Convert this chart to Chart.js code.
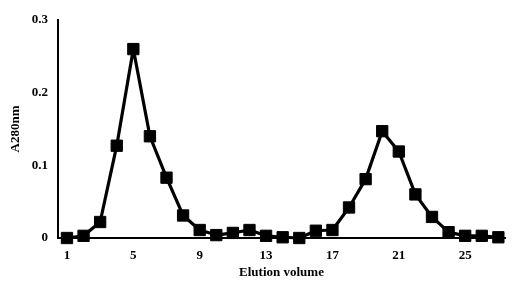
<!DOCTYPE html>
<html>
<head>
<title>Elution profile</title>
<script src="https://cdn.jsdelivr.net/npm/chart.js@4.4.1/dist/chart.umd.min.js"></script>
<style>
    body { margin: 0; background: #fff; }
    #wrap { width: 514px; height: 298px; }
</style>
</head>
<body>
<div id="wrap"><canvas id="elutionChart" width="514" height="298"></canvas></div>
<script>
// fractions (elution volume) and A280 readings
const volumes = [1,2,3,4,5,6,7,8,9,10,11,12,13,14,15,16,17,18,19,20,21,22,23,24,25,26,27];
const a280 = [0, 0.003, 0.022, 0.127, 0.26, 0.14, 0.083, 0.031, 0.011, 0.004, 0.007, 0.011, 0.003, 0.001, 0,
              0.01, 0.011, 0.042, 0.081, 0.147, 0.119, 0.06, 0.029, 0.008, 0.003, 0.003, 0.001];
const xTickLabels = [1, 5, 9, 13, 17, 21, 25];
const yTickLabels = [0, 0.1, 0.2, 0.3];

const serifBold = { family: '"Liberation Serif", "Times New Roman", serif', weight: 'bold', size: 13 };

new Chart(document.getElementById('elutionChart').getContext('2d'), {
    type: 'line',
    data: {
        datasets: [{
            label: 'A280nm',
            data: volumes.map((v, i) => ({ x: v, y: a280[i] })),
            borderColor: '#000',
            backgroundColor: '#000',
            borderWidth: 3.2,
            borderJoinStyle: 'round',
            pointStyle: 'rect',
            pointRadius: 8,
            pointHoverRadius: 8,
            pointBorderWidth: 1,
            tension: 0,
            fill: false,
            clip: false
        }]
    },
    options: {
        responsive: false,
        animation: false,
        layout: { padding: { top: 20, right: 7, bottom: 0, left: 0 } },
        plugins: { legend: { display: false }, tooltip: { enabled: false } },
        scales: {
            x: {
                type: 'linear',
                min: 0.46,
                max: 27.4,
                grid: { display: false, drawTicks: false },
                border: { display: true, color: '#000', width: 2 },
                afterBuildTicks: (scale) => { scale.ticks = xTickLabels.map(v => ({ value: v })); },
                ticks: { color: '#000', font: serifBold, padding: 10, maxRotation: 0 },
                title: { display: true, text: 'Elution volume', color: '#000', font: serifBold, padding: { top: 4, bottom: 18 } },
                afterFit: (scale) => { scale.height = 60; }
            },
            y: {
                min: 0,
                max: 0.3,
                grid: { display: false, drawTicks: false },
                border: { display: true, color: '#000', width: 2 },
                afterBuildTicks: (scale) => { scale.ticks = yTickLabels.map(v => ({ value: v })); },
                ticks: { color: '#000', font: serifBold, padding: 10, callback: (v) => String(v) },
                title: { display: true, text: 'A280nm', color: '#000', font: serifBold, padding: { top: 8, bottom: 4 } },
                afterFit: (scale) => { scale.width = 58; }
            }
        }
    }
});
</script>
</body>
</html>
